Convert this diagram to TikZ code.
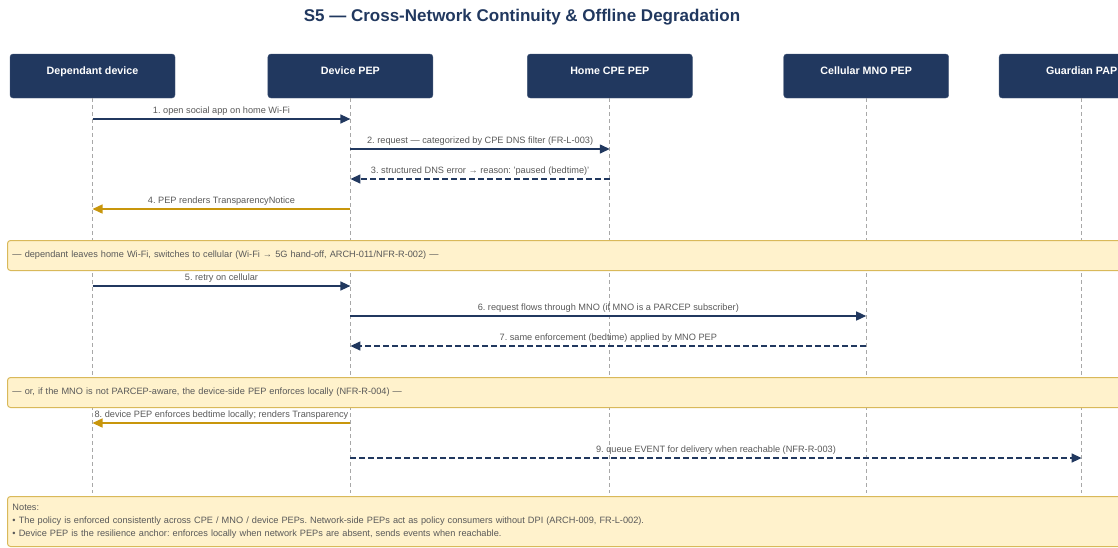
\documentclass[tikz,border=0pt]{standalone}
\usepackage{fontspec}
\setmainfont{Liberation Sans}
\usepackage{xcolor}
\usepackage{tikz}
\usetikzlibrary{arrows.meta,positioning}
\frenchspacing
\definecolor{Navy}{HTML}{21385F}
\definecolor{Gold}{HTML}{C8960C}
\definecolor{NoteFill}{HTML}{FFF2CC}
\definecolor{NoteLine}{HTML}{D9B95A}
\definecolor{LifeGrey}{HTML}{A8A8A8}
\definecolor{LabelGrey}{HTML}{595959}
\tikzset{
  actor/.style   = {fill=Navy, draw=Navy!85, rounded corners=3pt, inner sep=0pt,
                    minimum width=165pt, minimum height=44pt, text=white,
                    font=\fontsize{10.7}{12}\selectfont\bfseries,
                    text height=7.5pt, text depth=11pt},
  life/.style    = {draw=LifeGrey, line width=0.8pt, dash pattern=on 4pt off 3pt},
  call/.style    = {-{Triangle[length=10pt,width=9pt]}, draw=Navy, line width=1.4pt},
  reply/.style   = {call, dash pattern=on 6pt off 3pt},
  render/.style  = {call, draw=Gold},
  msglbl/.style  = {font=\fontsize{9.2}{11}\selectfont, text=LabelGrey, above, inner sep=2.5pt},
  band/.style    = {fill=NoteFill, draw=NoteLine, rounded corners=3pt, line width=1pt,
                    anchor=north west, text width=1180pt, align=left, inner xsep=5pt,
                    font=\fontsize{9.2}{13}\selectfont, text=LabelGrey},
  headline/.style= {font=\fontsize{17}{20}\selectfont\bfseries, text=Navy},
}

\begin{document}
\begin{tikzpicture}[x=1pt, y=-1pt]

  \useasboundingbox (0,0) rectangle (1118,547);
  \clip (0,0) rectangle (1118,547);

  \node[headline] (title) at (522,17)
    {S5 — Cross-Network Continuity \& Offline Degradation};

  % participants
  \node[actor] (dd) at (92.5,76) {Dependant device};
  \node[actor, right=92.5pt of dd]  (pep) {Device PEP};
  \node[actor, right=94pt of pep]   (cpe) {Home CPE PEP};
  \node[actor, right=91pt of cpe]   (mno) {Cellular MNO PEP};
  \node[actor, right=50pt of mno]   (pap) {Guardian PAP};

  \foreach \p in {dd,pep,cpe,mno,pap}
    \draw[life] (\p.south) -- (\p.south |- 0,493);

  % home Wi-Fi
  \draw[call] (dd |- 0,119) -- (pep |- 0,119)
    node[msglbl, midway] {1. open social app on home Wi-Fi};
  \draw[call] (pep |- 0,149) -- (cpe |- 0,149)
    node[msglbl, midway] {2. request — categorized by CPE DNS filter (FR-L-003)};
  \draw[reply] (cpe |- 0,179) -- (pep |- 0,179)
    node[msglbl, midway] {3. structured DNS error → reason: 'paused (bedtime)'};
  \draw[render] (pep |- 0,209) -- (dd |- 0,209)
    node[msglbl, midway] {4. PEP renders TransparencyNotice};

  \node[band, minimum height=30pt] (handoff) at (7,240)
    {— dependant leaves home Wi-Fi, switches to cellular (Wi-Fi → 5G hand-off, ARCH-011/NFR-R-002) —};

  % cellular
  \draw[call] (dd |- 0,286) -- (pep |- 0,286)
    node[msglbl, midway] {5. retry on cellular};
  \draw[call] (pep |- 0,316) -- (mno |- 0,316)
    node[msglbl, midway] {6. request flows through MNO (if MNO is a PARCEP subscriber)};
  \draw[reply] (mno |- 0,346) -- (pep |- 0,346)
    node[msglbl, midway] {7. same enforcement (bedtime) applied by MNO PEP};

  \node[band, minimum height=30pt] (fallback) at (7,377)
    {— or, if the MNO is not PARCEP-aware, the device-side PEP enforces locally (NFR-R-004) —};

  % offline
  \draw[render] (pep |- 0,423) -- (dd |- 0,423)
    node[msglbl, midway] {8. device PEP enforces bedtime locally; renders Transparency};
  \draw[reply] (pep |- 0,458) -- (pap |- 0,458)
    node[msglbl, midway] {9. queue EVENT for delivery when reachable (NFR-R-003)};

  \node[band, minimum height=50pt, inner ysep=5pt] (notes) at (7,496)
    {Notes:\\
     • The policy is enforced consistently across CPE / MNO / device PEPs. Network-side PEPs act as policy consumers without DPI (ARCH-009, FR-L-002).\\
     • Device PEP is the resilience anchor: enforces locally when network PEPs are absent, sends events when reachable.};

\end{tikzpicture}
\end{document}
